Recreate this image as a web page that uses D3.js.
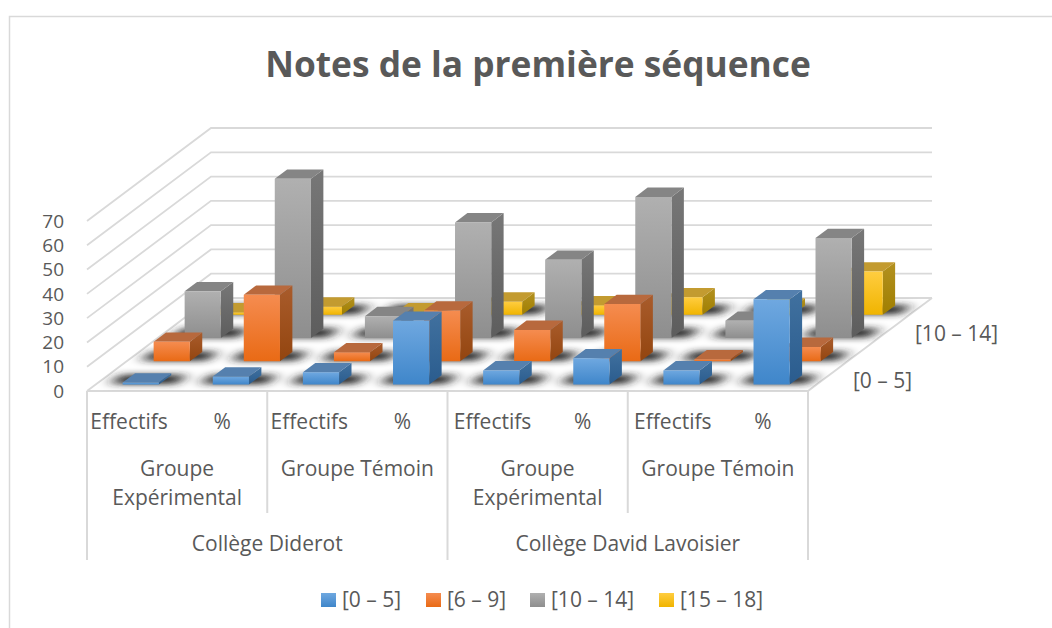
<!DOCTYPE html>
<html>
<head>
<meta charset="utf-8">
<script src="https://cdn.jsdelivr.net/npm/d3@7"></script>
<style>
  html, body { margin: 0; padding: 0; background: #fff; }
  text { font-family: "Open Sans", sans-serif; fill: #595959; }
</style>
</head>
<body>
<div id="chart"></div>
<script>
const titleText = "Notes de la première séquence";
const categories = ["Effectifs", "%", "Effectifs", "%", "Effectifs", "%", "Effectifs", "%"];
const groups = [["Groupe", "Expérimental"], ["Groupe Témoin"], ["Groupe", "Expérimental"], ["Groupe Témoin"]];
const colleges = ["Collège Diderot", "Collège David Lavoisier"];
const seriesNames = ["[0 – 5]", "[6 – 9]", "[10 – 14]", "[15 – 18]"];
const depthLabels = ["[0 – 5]", "[10 – 14]"];
const yTicks = [0, 10, 20, 30, 40, 50, 60, 70];

const values0to5 = [0.8, 3.3, 5, 26.2, 5.8, 10.8, 5.8, 35.1];
const values6to9 = [8, 27.4, 3.7, 20.9, 12.9, 23.6, 0.8, 5.9];
const values10to14 = [19.2, 65.6, 9, 47.6, 32.2, 58.1, 7.1, 41.2];
const values15to18 = [1, 3.4, 1, 5.4, 3.9, 7.2, 3, 17.8];
const seriesValues = [values0to5, values6to9, values10to14, values15to18];

// front top, front bottom, side top, side bottom, top face
const seriesColors = [
  ["#6FA8E0", "#3F86CA", "#41719F", "#2A5C8E", "#5580AE"],
  ["#F58C50", "#E96A15", "#A95C2C", "#93450F", "#B8693D"],
  ["#B0B0B0", "#8E8E8E", "#777777", "#5D5D5D", "#858585"],
  ["#FFCD40", "#F0B400", "#B39120", "#9F7E00", "#C39B30"]
];

const width = 1052, height = 628;
const left = 87, right = 808, floorY = 391;
const depthX = 124, depthY = 93;
const fontSize = 21;

const svg = d3.select("#chart").append("svg")
  .attr("width", width)
  .attr("height", height)
  .style("display", "block");

const xScale = d3.scaleBand().domain(d3.range(categories.length)).range([left, right]);
const yScale = d3.scaleLinear().domain([0, 70]).range([0, 170]);
const zScale = d3.scaleLinear().domain([0, seriesNames.length]).range([0, 1]);

// 3D box corner -> screen. x in pixels on the front edge, z in rows, v in data units.
function project(x, z, v) {
  let t = zScale(z);
  return [x + t * depthX, floorY - t * depthY - yScale(v)];
}
const poly = pts => pts.map(p => p.join(",")).join(" ");

// gradients
const defs = svg.append("defs");
seriesColors.forEach((c, i) => {
  [["front", c[0], c[1]], ["side", c[2], c[3]]].forEach(([name, c0, c1]) => {
    let g = defs.append("linearGradient")
      .attr("id", name + i)
      .attr("x1", 0).attr("y1", 0).attr("x2", 0).attr("y2", 1);
    g.append("stop").attr("offset", "0%").attr("stop-color", c0);
    g.append("stop").attr("offset", "100%").attr("stop-color", c1);
  });
});
defs.append("filter").attr("id", "blur")
  .attr("x", "-50%").attr("y", "-80%").attr("width", "200%").attr("height", "260%")
  .append("feGaussianBlur").attr("stdDeviation", "7 3");
defs.append("clipPath").attr("id", "floorClip")
  .append("polygon")
  .attr("points", poly([project(left, 0, 0), project(right, 0, 0), project(right, 4, 0), project(left, 4, 0)]));

// chart frame: no right edge in the picture
svg.append("path")
  .attr("d", "M9.5,628V16.5H1052")
  .attr("fill", "none")
  .attr("stroke", "#d9d9d9")
  .attr("stroke-width", 1.5);

// title
svg.append("text")
  .attr("x", 538).attr("y", 77)
  .attr("text-anchor", "middle")
  .attr("font-size", 35.3)
  .attr("font-weight", 700)
  .text(titleText);

// walls and floor
const walls = svg.append("g")
  .attr("fill", "none")
  .attr("stroke", "#d9d9d9")
  .attr("stroke-width", 1.8);
yTicks.forEach(v => {
  walls.append("polyline")
    .attr("points", poly([project(left, 0, v), project(left, 4, v), project(right, 4, v)]));
});
walls.append("polyline")
  .attr("points", poly([project(left, 0, 0), project(right, 0, 0), project(right, 4, 0)]));

// y labels
svg.append("g").selectAll("text")
  .data(yTicks)
  .join("text")
  .attr("x", 64)
  .attr("y", d => floorY - yScale(d))
  .attr("dy", "0.35em")
  .attr("text-anchor", "end")
  .attr("font-size", 19)
  .text(d => d);

// one record per bar, back row first
const rowOrder = d3.range(seriesNames.length).reverse();
const barDepth = 0.4, zStart = 0.28, barWidth = 36.2;
const bars = rowOrder.flatMap(s => seriesValues[s].map((v, i) => ({
  s, v,
  x0: xScale(i) + xScale.bandwidth() / 2 - barWidth / 2,
  z0: s + zStart
})));

// shadows on the floor
svg.append("g")
  .attr("clip-path", "url(#floorClip)")
  .append("g")
  .attr("filter", "url(#blur)")
  .selectAll("polygon")
  .data(bars)
  .join("polygon")
  .attr("fill", "#222")
  .attr("points", d => poly([
    project(d.x0 - 14, d.z0 + 0.02, 0),
    project(d.x0 + barWidth + 16, d.z0 + 0.02, 0),
    project(d.x0 + barWidth + 16, d.z0 + barDepth + 0.02, 0),
    project(d.x0 - 14, d.z0 + barDepth + 0.02, 0)
  ]));

// the boxes
const boxes = svg.append("g").selectAll("g").data(bars).join("g");
boxes.append("polygon")
  .attr("fill", d => `url(#side${d.s})`)
  .attr("points", d => poly([
    project(d.x0 + barWidth, d.z0, d.v),
    project(d.x0 + barWidth, d.z0 + barDepth, d.v),
    project(d.x0 + barWidth, d.z0 + barDepth, 0),
    project(d.x0 + barWidth, d.z0, 0)
  ]));
boxes.append("polygon")
  .attr("fill", d => seriesColors[d.s][4])
  .attr("points", d => poly([
    project(d.x0, d.z0, d.v),
    project(d.x0 + barWidth, d.z0, d.v),
    project(d.x0 + barWidth, d.z0 + barDepth, d.v),
    project(d.x0, d.z0 + barDepth, d.v)
  ]));
boxes.append("polygon")
  .attr("fill", d => `url(#front${d.s})`)
  .attr("points", d => poly([
    project(d.x0, d.z0, d.v),
    project(d.x0 + barWidth, d.z0, d.v),
    project(d.x0 + barWidth, d.z0, 0),
    project(d.x0, d.z0, 0)
  ]));

// category axis, three levels
const band = xScale.bandwidth();
const axis = svg.append("g");
const lineStyle = sel => sel.attr("stroke", "#d9d9d9").attr("stroke-width", 2);
[0, 2, 4, 6, 8].forEach(i => {
  let x = left + i * band;
  axis.append("line").call(lineStyle)
    .attr("x1", x).attr("x2", x)
    .attr("y1", floorY).attr("y2", i % 4 === 0 ? 560 : 513);
});

// first two "Effectifs" sit a little left of their band centre in the picture
axis.selectAll(".cat")
  .data(categories)
  .join("text")
  .attr("class", "cat")
  .attr("x", (d, i) => xScale(i) + band / 2 - (i < 4 && i % 2 === 0 ? 3 : 0))
  .attr("y", 429)
  .attr("text-anchor", "middle")
  .attr("font-size", fontSize)
  .text(d => d);

groups.forEach((lines, i) => {
  lines.forEach((line, j) => {
    axis.append("text")
      .attr("x", left + (i * 2 + 1) * band)
      .attr("y", 476 + j * 29)
      .attr("text-anchor", "middle")
      .attr("font-size", fontSize)
      .text(line);
  });
});

colleges.forEach((name, i) => {
  axis.append("text")
    .attr("x", left + (i * 4 + 2) * band)
    .attr("y", 551)
    .attr("text-anchor", "middle")
    .attr("font-size", fontSize)
    .text(name);
});

// depth axis labels
const depthPos = [[853, 388], [915, 341]];
depthLabels.forEach((name, i) => {
  svg.append("text")
    .attr("x", depthPos[i][0])
    .attr("y", depthPos[i][1])
    .attr("font-size", fontSize)
    .text(name);
});

// legend
const legendX = [321, 426, 530, 659];
const legend = svg.append("g").selectAll("g")
  .data(seriesNames)
  .join("g")
  .attr("transform", (d, i) => `translate(${legendX[i]},593)`);
legend.append("rect")
  .attr("width", 15).attr("height", 14)
  .attr("fill", (d, i) => `url(#front${i})`);
legend.append("text")
  .attr("x", 21).attr("y", 14)
  .attr("font-size", fontSize)
  .text(d => d);
</script>
</body>
</html>
